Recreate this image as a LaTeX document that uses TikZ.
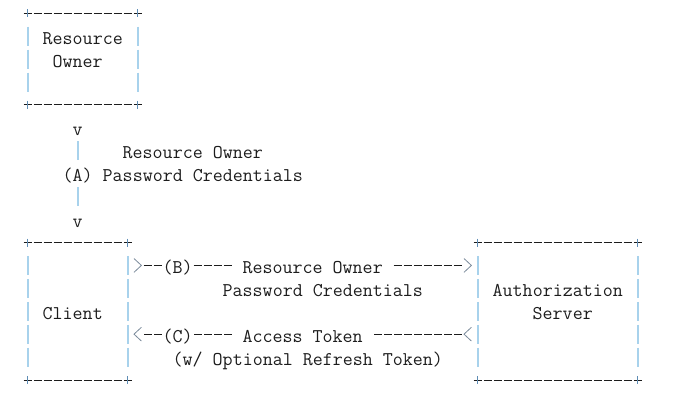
\documentclass[tikz,border=0pt]{standalone}
\usepackage{xcolor}
\usetikzlibrary{positioning, calc, fit}
\definecolor{cink}{HTML}{1C1C1C}
\definecolor{cbar}{HTML}{A8D2EC}
\definecolor{cplus}{HTML}{5F8DB5}
\definecolor{cchev}{HTML}{7A8A9A}

\begin{document}
\begin{tikzpicture}[
    x=7.5pt, y=-17.19pt,
    every node/.style={inner sep=0pt, outer sep=0pt},
    mono/.style={font=\ttfamily\fontsize{14.58pt}{17.19pt}\selectfont,
                 text=cink, anchor=base west},
    tag/.style={mono, anchor=base, fill=white},
    box/.style={rectangle, draw=none, inner sep=0pt},
    hline/.style={draw=cink, line width=0.75pt, dash pattern=on 6pt off 1.5pt},
    vline/.style={draw=cbar, line width=1.2pt, dash pattern=on 14.25pt off 2.94pt},
    plus/.style={draw=cplus, line width=0.75pt},
    chev/.style={draw=cchev, line width=0.6pt},
]
\useasboundingbox (2.23,-0.58) rectangle (70.83,17.35);

% the three boxes
\node[box, fit={(5,0) (16,4)}]    (ro)     {};
\node[box, fit={(5,10) (15,16)}]  (client) {};
\node[box, fit={(50,10) (66,16)}] (as)     {};

\foreach \b in {ro, client, as} {
  \draw[hline, shorten <=-3pt, shorten >=-3pt] (\b.north west) -- (\b.north east);
  \draw[hline, shorten <=-3pt, shorten >=-3pt] (\b.south west) -- (\b.south east);
  \draw[vline, shorten <=10.065pt, shorten >=10.065pt] (\b.north west) -- (\b.south west);
  \draw[vline, shorten <=10.065pt, shorten >=10.065pt] (\b.north east) -- (\b.south east);
  \foreach \k in {north west, north east, south west, south east}
    \draw[plus] ([yshift=3pt]\b.\k) -- ([yshift=-3pt]\b.\k);
}

\node[mono] (roname1) at (6.5,1.35)  {Resource};
\node[mono] (roname2) at (7.5,2.35)  {Owner};
\node[mono] (clname)  at (6.5,13.35) {Client};
\node[mono] (asname1) at (51.5,12.35) {Authorization};
\node[mono] (asname2) at (55.5,13.35) {Server};

% (A) owner -> client
\draw[vline, dash pattern=on 14.25pt off 20.13pt,
      shorten <=27.255pt, shorten >=27.255pt]
    (client.north |- ro.south) -- (client.north)
    node[mono, anchor=base, pos=1/6, yshift=-6pt] (va1) {v}
    node[mono, anchor=base, pos=1/2, yshift=-6pt] (stepA) {(A)}
    node[mono, anchor=base, pos=5/6, yshift=-6pt] (va2) {v};
\node[mono] (credA1) at (14.5,6.35) {Resource Owner};
\node[mono, base right=7.5pt of stepA] (credA2) {Password Credentials};

% (B) client -> server
\draw[hline, shorten <=12pt, shorten >=12pt]
    ($(client.north east)+(0,1)$) -- ($(as.north west)+(0,1)$);
\node[tag] (stepB) at (20,11.35) {(B)};
\node[tag, inner xsep=7.5pt] (lblB1) at (33.5,11.35) {Resource Owner};
\node[mono] (lblB2) at (24.5,12.35) {Password Credentials};

% (C) server -> client
\draw[hline, shorten <=12pt, shorten >=12pt]
    ($(as.north west)+(0,4)$) -- ($(client.north east)+(0,4)$);
\node[tag] (stepC) at (20,14.35) {(C)};
\node[tag, inner xsep=7.5pt] (lblC1) at (32.5,14.35) {Access Token};
\node[mono] (lblC2) at (19.5,15.35) {(w/ Optional Refresh Token)};

% chevrons
\foreach \c/\r/\d in {16/11/1, 49/11/1, 16/14/-1, 49/14/-1}
  \draw[chev] ({\c-0.37*\d},{\r-0.3}) -- ({\c+0.37*\d},\r) -- ({\c-0.37*\d},{\r+0.3});
\end{tikzpicture}
\end{document}
